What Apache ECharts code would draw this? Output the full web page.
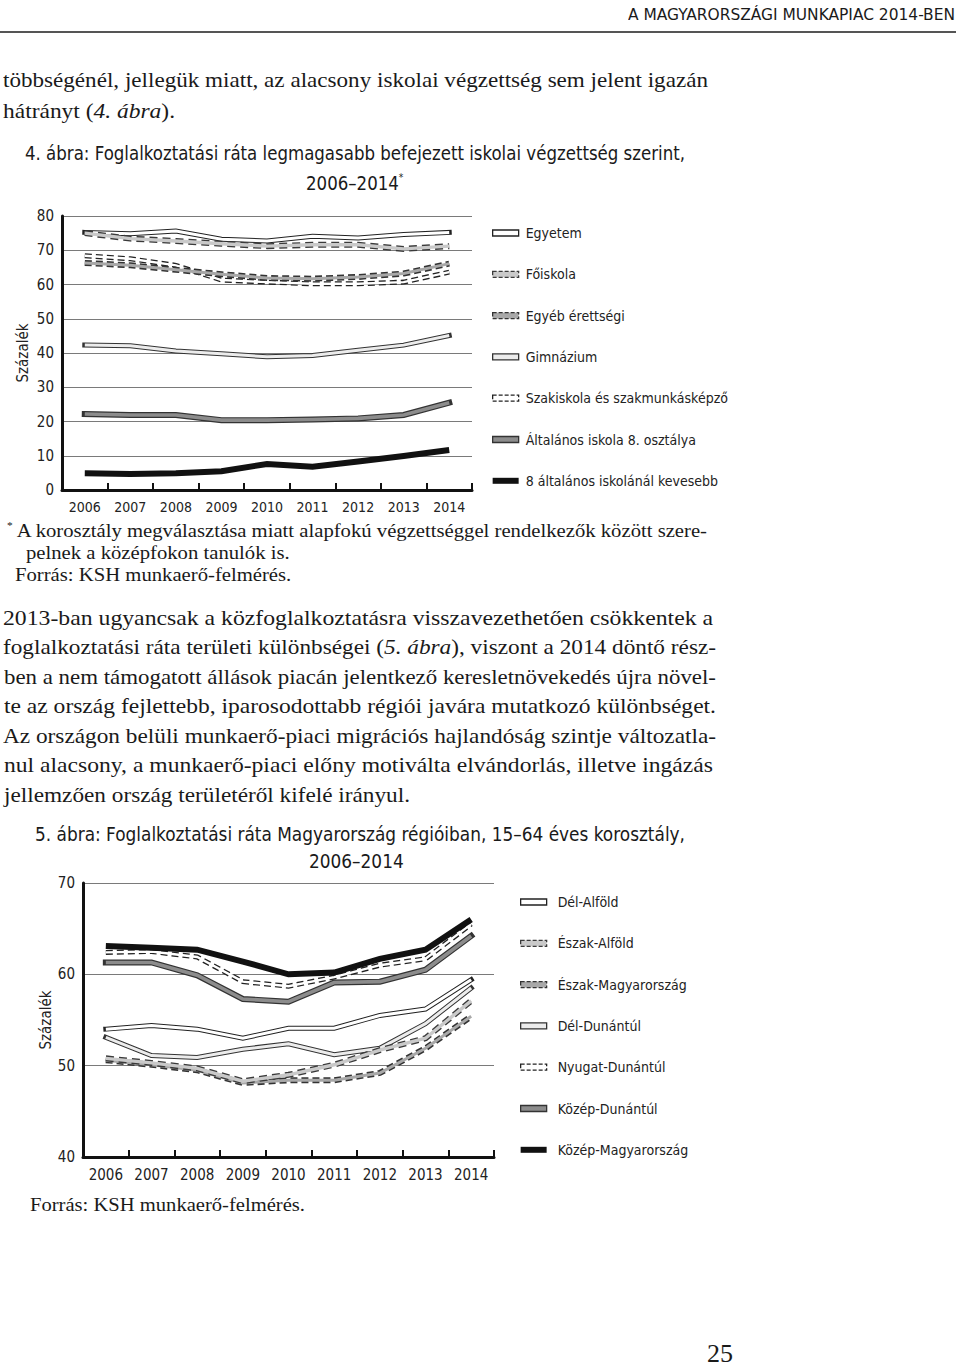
<!DOCTYPE html>
<html><head><meta charset="utf-8">
<script src="https://cdn.jsdelivr.net/npm/echarts@6/dist/echarts.min.js"></script>
<style>
html,body{margin:0;padding:0;background:#fff;}
#page{position:relative;width:960px;height:1370px;overflow:hidden;background:#fff;}
#chart{position:absolute;left:0;top:0;width:960px;height:1370px;}
.t{position:absolute;white-space:nowrap;color:#1a1a1a;transform-origin:0 0;line-height:1;}
.serif{font-family:"Liberation Serif","DejaVu Serif",serif;}
.sans{font-family:"DejaVu Sans Condensed","Liberation Sans Narrow","Liberation Sans",sans-serif;}
sup{font-size:55%;vertical-align:top;position:relative;top:-0.1em;}
#rule{position:absolute;left:0;top:31px;width:956px;height:2px;background:#555;}
</style></head>
<body><div id="page">
<div id="chart"></div>
<div id="rule"></div>
<div class="t sans" style="font-size:16px" data-x="628" data-yc="15" data-w="327">A MAGYARORSZÁGI MUNKAPIAC 2014-BEN</div>
<div class="t serif" id="p1" style="font-size:22px" data-x="3" data-yc="82" data-w="705">többségénél, jellegük miatt, az alacsony iskolai végzettség sem jelent igazán</div>
<div class="t serif" style="font-size:22px" data-x="3" data-yc="113" data-w="172">hátrányt (<i>4. ábra</i>).</div>
<div class="t sans" id="t1" style="font-size:20px" data-x="25" data-yc="153" data-w="660">4. ábra: Foglalkoztatási ráta legmagasabb befejezett iskolai végzettség szerint,</div>
<div class="t sans" style="font-size:20px" data-cx="355" data-yc="183" data-sref="t1">2006–2014<sup>*</sup></div>
<div class="t serif" id="f1" style="font-size:18px" data-x="7" data-yc="533" data-w="700"><sup>*</sup> A korosztály megválasztása miatt alapfokú végzettséggel rendelkezők között szere-</div>
<div class="t serif" style="font-size:18px" data-x="26" data-yc="555" data-sref="f1">pelnek a középfokon tanulók is.</div>
<div class="t serif" style="font-size:18px" data-x="15" data-yc="577" data-sref="f1">Forrás: KSH munkaerő-felmérés.</div>
<div class="t serif" id="p2" style="font-size:22px" data-x="3" data-yc="620" data-w="710">2013-ban ugyancsak a közfoglalkoztatásra visszavezethetően csökkentek a</div>
<div class="t serif" style="font-size:22px" data-x="3" data-yc="649.5" data-w="713">foglalkoztatási ráta területi különbségei (<i>5. ábra</i>), viszont a 2014 döntő rész-</div>
<div class="t serif" style="font-size:22px" data-x="4" data-yc="679" data-w="712">ben a nem támogatott állások piacán jelentkező keresletnövekedés újra növel-</div>
<div class="t serif" style="font-size:22px" data-x="4" data-yc="708.5" data-w="712">te az ország fejlettebb, iparosodottabb régiói javára mutatkozó különbséget.</div>
<div class="t serif" style="font-size:22px" data-x="3" data-yc="738" data-w="713">Az országon belüli munkaerő-piaci migrációs hajlandóság szintje változatla-</div>
<div class="t serif" style="font-size:22px" data-x="4" data-yc="767.5" data-w="709">nul alacsony, a munkaerő-piaci előny motiválta elvándorlás, illetve ingázás</div>
<div class="t serif" style="font-size:22px" data-x="4" data-yc="797" data-w="406">jellemzően ország területéről kifelé irányul.</div>
<div class="t sans" id="t2" style="font-size:20px" data-x="35" data-yc="834" data-w="650">5. ábra: Foglalkoztatási ráta Magyarország régióiban, 15–64 éves korosztály,</div>
<div class="t sans" style="font-size:20px" data-cx="356" data-yc="861" data-sref="t2">2006–2014</div>
<div class="t serif" style="font-size:18px" data-x="30" data-yc="1207" data-w="275">Forrás: KSH munkaerő-felmérés.</div>
<div class="t serif" style="font-size:26px" data-x="707" data-yc="1357">25</div>
</div>
<script>
// ---------- DATA ----------
const years = ['2006','2007','2008','2009','2010','2011','2012','2013','2014'];

// 4. ábra – education levels (%)
const egyetem        = [75.2, 74.8, 75.6, 73.2, 72.7, 74.1, 73.6, 74.6, 75.2];
const foiskola       = [75.0, 73.4, 72.7, 71.9, 71.2, 71.6, 71.6, 70.4, 71.2];
const egyebErettsegi = [66.3, 65.6, 64.3, 63.0, 61.9, 61.7, 62.2, 63.2, 66.1];
const gimnazium      = [42.3, 42.1, 40.6, 39.8, 38.9, 39.3, 40.8, 42.3, 45.1];
const szakiskola     = [68.4, 67.5, 65.6, 61.3, 60.7, 60.2, 60.2, 60.7, 63.6];
const altalanos8     = [22.2, 21.9, 21.9, 20.4, 20.4, 20.6, 20.9, 21.9, 25.5];
const kevesebb8      = [4.9, 4.7, 4.9, 5.5, 7.6, 6.8, 8.3, 9.9, 11.7];
const names1 = ['Egyetem','Főiskola','Egyéb érettségi','Gimnázium','Szakiskola és szakmunkásképző','Általános iskola 8. osztálya','8 általános iskolánál kevesebb'];

// 5. ábra – regions (%)
const delAlfold      = [54.0, 54.4, 54.0, 53.0, 54.1, 54.1, 55.5, 56.2, 59.4];
const eszakAlfold    = [50.8, 50.3, 49.7, 48.3, 49.0, 50.1, 51.7, 53.0, 57.1];
const eszakMagyar    = [50.6, 50.1, 49.5, 48.1, 48.4, 48.4, 49.2, 51.9, 55.4];
const delDunantul    = [53.1, 51.1, 50.9, 51.8, 52.4, 51.2, 51.9, 54.6, 58.5];
const nyugatDunantul = [62.4, 62.5, 61.9, 59.2, 58.7, 59.7, 61.0, 61.7, 65.5];
const kozepDunantul  = [61.3, 61.3, 59.9, 57.3, 57.0, 59.1, 59.2, 60.5, 64.2];
const kozepMagyar    = [63.1, 62.9, 62.7, 61.4, 60.0, 60.2, 61.7, 62.7, 66.0];
const names2 = ['Dél-Alföld','Észak-Alföld','Észak-Magyarország','Dél-Dunántúl','Nyugat-Dunántúl','Közép-Dunántúl','Közép-Magyarország'];

// axis ticks
const yRange1 = [0, 80, 10];
const yRange2 = [40, 70, 10];

// ---------- STYLES ----------
const FONT = '"DejaVu Sans Condensed","Liberation Sans Narrow","Liberation Sans",sans-serif';
const DASH = [7, 4];
const ST = {
  white:   {under:{color:'#222', width:5}, color:'#ffffff', width:3},
  light:   {under:{color:'#333', width:5}, color:'#ececec', width:3},
  gray:    {under:{color:'#333', width:6}, color:'#8c8c8c', width:3.6},
  black:   {color:'#111', width:6},
  dashW:   {under:{color:'#222', width:5, dash:DASH}, color:'#ffffff', width:2.4},
  dashG:   {under:{color:'#333', width:6, dash:DASH}, color:'#a8a8a8', width:3},
  dashL:   {under:{color:'#3a3a3a', width:6, dash:[8,5]}, color:'#c9c9c9', width:3.4}
};

function pair(name, data, idx, st, z) {
  const out = [];
  const base = {type:'line', xAxisIndex:idx, yAxisIndex:idx, data:data, symbol:'none',
    silent:true, animation:false, emphasis:{disabled:true}};
  if (st.under) {
    out.push(Object.assign({}, base, {name: name + '\u200b', z: z,
      lineStyle:{color:st.under.color, width:st.under.width, type: st.under.dash || 'solid',
        cap: st.under.dash ? 'butt' : 'square', join:'miter'}}));
  }
  out.push(Object.assign({}, base, {name: name, z: z + 0.5,
    lineStyle:{color:st.color, width:st.width, cap:'butt', join:'miter'}}));
  return out;
}
function legendItem(name, st) {
  if (!st.under) return {name, icon:'rect', itemStyle:{color:st.color, borderWidth:0}};
  return {name, icon:'rect', itemStyle:{color:st.color, borderColor:st.under.color,
    borderWidth:1.3, borderType: st.under.dash ? [4,2] : 'solid'}};
}

const s1 = [kevesebb8, altalanos8, gimnazium, szakiskola, egyebErettsegi, egyetem, foiskola];
const n1 = [names1[6], names1[5], names1[3], names1[4], names1[2], names1[0], names1[1]];
const st1 = [ST.black, ST.gray, ST.light, ST.dashW, ST.dashG, ST.white, ST.dashL];
const legendSt1 = {}; n1.forEach((n,i)=>legendSt1[n]=st1[i]);

const s2 = [delDunantul, delAlfold, eszakMagyar, eszakAlfold, kozepDunantul, nyugatDunantul, kozepMagyar];
const n2 = [names2[3], names2[0], names2[2], names2[1], names2[5], names2[4], names2[6]];
const st2 = [ST.light, ST.white, ST.dashG, ST.dashL, ST.gray, ST.dashW, ST.black];
const legendSt2 = {}; n2.forEach((n,i)=>legendSt2[n]=st2[i]);

let series = [];
s1.forEach((d,i)=>{ series = series.concat(pair(n1[i], d, 0, st1[i], 2 + i)); });
s2.forEach((d,i)=>{ series = series.concat(pair(n2[i], d, 1, st2[i], 2 + i)); });

function xAx(idx, fs) {
  return {type:'category', gridIndex:idx, data:years, boundaryGap:true,
    axisLine:{show:true, lineStyle:{color:'#111', width:3}},
    axisTick:{show:true, inside:true, length:7, interval:0, lineStyle:{color:'#111', width:2}},
    axisLabel:{color:'#222', fontFamily:FONT, fontSize:fs, margin:10, interval:0, hideOverlap:false},
    splitLine:{show:false}};
}
function yAx(idx, r, gap) {
  return {type:'value', gridIndex:idx, min:r[0], max:r[1], interval:r[2],
    name:'Százalék', nameLocation:'middle', nameRotate:90, nameGap:gap,
    nameTextStyle:{color:'#222', fontFamily:FONT, fontSize:15},
    axisLine:{show:true, lineStyle:{color:'#111', width:3}},
    axisTick:{show:false},
    axisLabel:{color:'#222', fontFamily:FONT, fontSize:15, margin:8},
    splitLine:{show:true, lineStyle:{color:'#7a7a7a', width:1}}};
}
function legend(names, stMap, left, top, pad) {
  return {orient:'vertical', left:left, top:top, itemWidth:26, itemHeight:6, itemGap:25.3,
    selectedMode:false, data: names.map(n=>legendItem(n, stMap[n])),
    textStyle:{color:'#222', fontFamily:FONT, fontSize:14, lineHeight:16, padding:[0,0,0,pad]}};
}

const chart = echarts.init(document.getElementById('chart'), null, {renderer:'svg', width:960, height:1370});
chart.setOption({
  animation:false,
  backgroundColor:'transparent',
  grid:[
    {left:62, top:216, width:410, height:274},
    {left:83, top:883, width:411, height:274}
  ],
  xAxis:[xAx(0, 14), xAx(1, 15)],
  yAxis:[yAx(0, yRange1, 32), yAx(1, yRange2, 30)],
  legend:[legend(names1, legendSt1, 487, 220, 2), legend(names2, legendSt2, 515, 889, 6)],
  series: series
});

// ---------- TEXT FITTING ----------
function layoutText() {
  const els = Array.from(document.querySelectorAll('.t'));
  const scales = {};
  els.forEach(el=>{
    el.style.transform = 'none';
    const fs = parseFloat(el.style.fontSize);
    const isSerif = el.classList.contains('serif');
    const yc = parseFloat(el.dataset.yc);
    el.style.top = (yc - (isSerif ? 0.6 : 0.5) * fs) + 'px';
  });
  const pass = (useRef) => els.forEach(el=>{
    if (!!el.dataset.sref !== useRef) return;
    const nat = el.getBoundingClientRect().width;
    let sc = 1;
    if (el.dataset.w) sc = parseFloat(el.dataset.w) / nat;
    else if (el.dataset.sref) sc = scales[el.dataset.sref] || 1;
    if (el.id) scales[el.id] = sc;
    el.style.transform = 'scaleX(' + sc + ')';
    if (el.dataset.cx) el.style.left = (parseFloat(el.dataset.cx) - nat * sc / 2) + 'px';
    else el.style.left = el.dataset.x + 'px';
  });
  pass(false); pass(true);
}
layoutText();
if (document.fonts && document.fonts.ready) document.fonts.ready.then(layoutText);
</script>
</body></html>
